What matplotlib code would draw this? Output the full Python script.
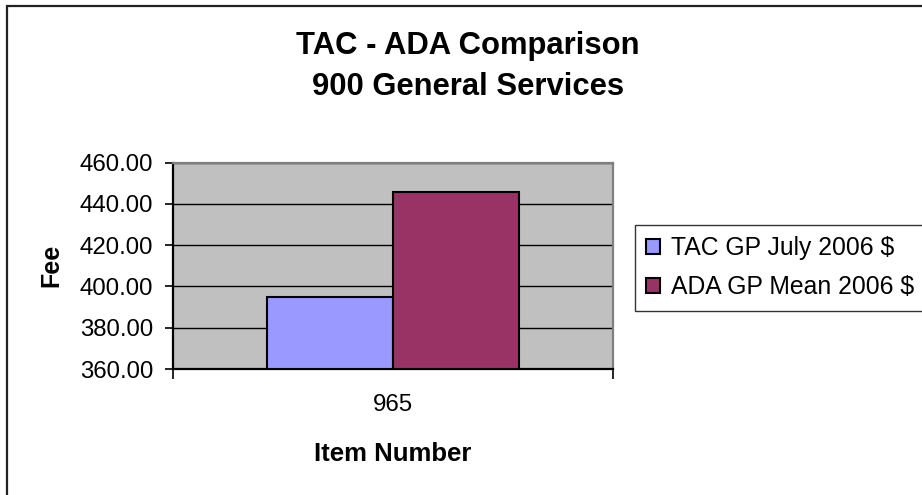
import matplotlib
matplotlib.use('Agg')
import matplotlib.pyplot as plt
from matplotlib.patches import Rectangle
import numpy as np

# data
categories = ['965']
series     = ['TAC GP July 2006 $', 'ADA GP Mean 2006 $']
values     = [395.0, 445.5]
colors     = ['#9999FF', '#993366']
yticks     = [360, 380, 400, 420, 440, 460]

plt.rcParams['font.family'] = ['Liberation Sans', 'DejaVu Sans']

W, H = 922, 495
fig = plt.figure(figsize=(W/100, H/100), dpi=100)
fig.patch.set_facecolor('white')

# plot area in pixel coords of the reference
x0, x1, y0, y1 = 172.5, 613, 162.5, 369
ax = fig.add_axes([x0/W, 1 - y1/H, (x1-x0)/W, (y1-y0)/H])
ax.set_facecolor('#C0C0C0')

w = 0.2864
xs = np.arange(len(categories))
for i, (name, v, c) in enumerate(zip(series, values, colors)):
    ax.bar(xs + (i - 0.5)*w, [v - 360], w, bottom=360, color=c,
           edgecolor='black', lw=1.5, label=name, zorder=3)

ax.set_xlim(-0.5, 0.5)
ax.set_ylim(360, 460)
ax.set_yticks(yticks)
ax.set_yticklabels([f'{t:.2f}' for t in yticks], fontsize=17.3)
ax.yaxis.grid(True, color='black', lw=1.0, zorder=1)
ax.set_axisbelow(True)
ax.tick_params(axis='y', direction='out', length=6, width=1.2, pad=8)

ax.set_xticks(xs)
ax.set_xticklabels(categories, fontsize=17.3)
ax.set_xticks([-0.5, 0.5], minor=True)
ax.tick_params(axis='x', which='major', length=0, pad=18)
ax.tick_params(axis='x', which='minor', direction='out', length=7, width=1.2)

for s in ['left', 'bottom']:
    ax.spines[s].set_color('black'); ax.spines[s].set_linewidth(1.6)
for s in ['top', 'right']:
    ax.spines[s].set_color('#808080'); ax.spines[s].set_linewidth(1.6)

ax.set_xlabel('Item Number', fontsize=18.5, fontweight='bold', labelpad=19)
ax.set_ylabel('Fee', fontsize=18, fontweight='bold', labelpad=12)

fig.text(468/W, 1 - 46/H, 'TAC - ADA Comparison', fontsize=22.3, fontweight='bold',
         ha='center', va='center')
fig.text(468/W, 1 - 87/H, '900 General Services', fontsize=22.3, fontweight='bold',
         ha='center', va='center')

leg = fig.legend(loc='upper left', bbox_to_anchor=(635/W, 1 - 225/H), fontsize=17.8,
                 frameon=True, fancybox=False, edgecolor='black', borderpad=0.45,
                 handlelength=0.55, handleheight=0.55, handletextpad=0.45,
                 labelspacing=0.62, borderaxespad=0)
leg.get_frame().set_linewidth(1.0)

# outer chart border (left and top edges visible in the reference)
fig.add_artist(Rectangle((6.5/W, -0.05), 1.0, (H - 5.5)/H + 0.05,
                         transform=fig.transFigure, fill=False,
                         edgecolor='#222222', lw=1.6))

fig.savefig('out.png', dpi=100)
